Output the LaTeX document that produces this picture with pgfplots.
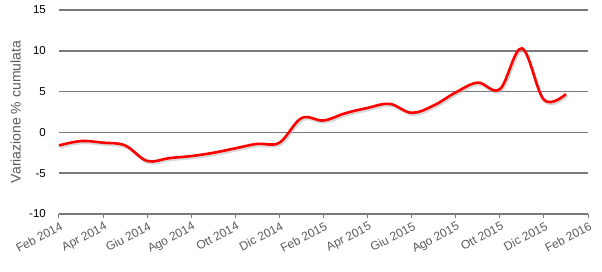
\documentclass[border=0pt]{standalone}
\usepackage{pgfplots}
\pgfplotsset{compat=1.18}
\usepackage{fontspec}
\setmainfont{Liberation Sans}
\definecolor{gridc}{HTML}{7A7A7A}
\definecolor{lblc}{HTML}{5A5A5A}
\begin{document}
\begin{tikzpicture}
\useasboundingbox (-59pt,-58pt) rectangle (543pt,214pt);
\begin{axis}[
  at={(0,0)}, anchor=south west,
  scale only axis,
  width=529pt, height=204pt,
  xmin=0, xmax=24, ymin=-10, ymax=15,
  xtick={0,2,...,24},
  xticklabels={Feb 2014,Apr 2014,Giu 2014,Ago 2014,Ott 2014,Dic 2014,Feb 2015,Apr 2015,Giu 2015,Ago 2015,Ott 2015,Dic 2015,Feb 2016},
  ytick={-10,-5,0,5,10,15},
  axis lines*=left,
  x axis line style={draw=gridc, line width=1.5pt, -},
  y axis line style={draw=none},
  ytick style={draw=none},
  xtick style={draw=gridc, line width=1pt},
  tick align=outside,
  major tick length=4pt,
  ymajorgrids,
  grid style={draw=gridc, line width=1.5pt},
  xticklabel style={rotate=28, anchor=north east, font=\fontsize{12}{12}\selectfont, text=lblc, inner sep=1pt, yshift=-2pt},
  yticklabel style={font=\fontsize{11.5}{12}\selectfont, text=black, inner sep=0pt, xshift=-9pt},
  /pgf/number format/assume math mode=true,
  ylabel={Variazione \% cumulata},
  ylabel style={font=\fontsize{14}{14}\selectfont, text=lblc},
  ylabel shift=5pt,
  clip=false,
]
\addplot[draw=black!30, opacity=0.5, line width=2.8pt, smooth, tension=0.6, xshift=1.2pt, yshift=-1.8pt] coordinates {
(0,-1.6) (1,-1.06) (2,-1.26) (3,-1.6) (4,-3.5) (5,-3.15) (6,-2.9) (7,-2.5) (8,-1.95) (9,-1.4) (10,-1.26) (11,1.75)
(12,1.46) (13,2.36) (14,3.0) (15,3.5) (16,2.4) (17,3.3) (18,4.9) (19,6.1) (20,5.3) (21,10.3) (22,4.0) (23,4.7)};
\addplot[draw=red, line width=2.6pt, smooth, tension=0.6] coordinates {
(0,-1.6) (1,-1.06) (2,-1.26) (3,-1.6) (4,-3.5) (5,-3.15) (6,-2.9) (7,-2.5) (8,-1.95) (9,-1.4) (10,-1.26) (11,1.75)
(12,1.46) (13,2.36) (14,3.0) (15,3.5) (16,2.4) (17,3.3) (18,4.9) (19,6.1) (20,5.3) (21,10.3) (22,4.0) (23,4.7)};
\end{axis}
\end{tikzpicture}
\end{document}
